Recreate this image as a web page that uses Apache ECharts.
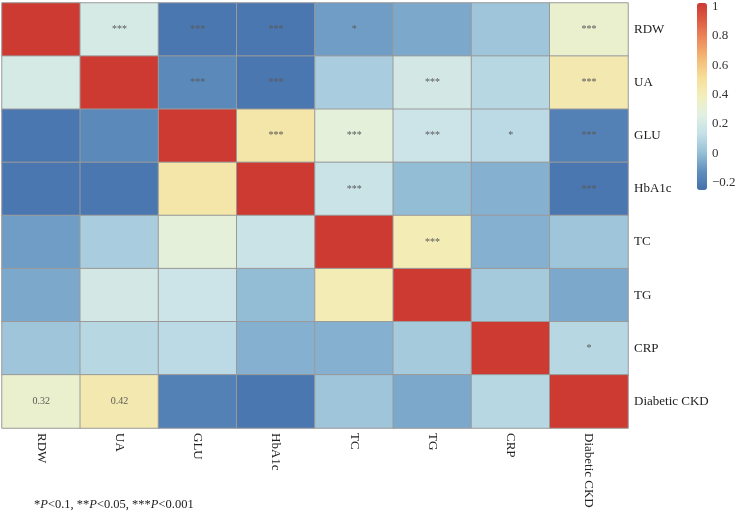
<!DOCTYPE html>
<html><head><meta charset="utf-8">
<script src="https://cdn.jsdelivr.net/npm/echarts@6/dist/echarts.min.js"></script>
<style>html,body{margin:0;padding:0;background:#fff}#c{width:753px;height:512px}</style>
</head><body><div id="c"></div>
<script>
const variables = ['RDW','UA','GLU','HbA1c','TC','TG','CRP','Diabetic CKD'];
// correlation rows (row variable vs column variable)
const rowRDW   = [1.00, 0.20, -0.22, -0.22, -0.09, -0.06, 0.02, 0.32];
const rowUA    = [0.20, 1.00, -0.15, -0.22, 0.05, 0.19, 0.09, 0.42];
const rowGLU   = [-0.22, -0.15, 1.00, 0.45, 0.28, 0.16, 0.10, -0.18];
const rowHbA1c = [-0.22, -0.22, 0.45, 1.00, 0.15, -0.01, -0.04, -0.22];
const rowTC    = [-0.09, 0.05, 0.28, 0.15, 1.00, 0.40, -0.04, 0.02];
const rowTG    = [-0.06, 0.19, 0.16, -0.01, 0.40, 1.00, 0.04, -0.06];
const rowCRP   = [0.02, 0.09, 0.10, -0.04, -0.04, 0.04, 1.00, 0.09];
const rowCKD   = [0.32, 0.42, -0.18, -0.22, 0.02, -0.06, 0.09, 1.00];
// cell annotations
const lblRDW   = ['', '***', '***', '***', '*', '', '', '***'];
const lblUA    = ['', '', '***', '***', '', '***', '', '***'];
const lblGLU   = ['', '', '', '***', '***', '***', '*', '***'];
const lblHbA1c = ['', '', '', '', '***', '', '', '***'];
const lblTC    = ['', '', '', '', '', '***', '', ''];
const lblTG    = ['', '', '', '', '', '', '', ''];
const lblCRP   = ['', '', '', '', '', '', '', '*'];
const lblCKD   = ['0.32', '0.42', '', '', '', '', '', ''];
const colorbarTicks = [-0.2, 0, 0.2, 0.4, 0.6, 0.8, 1];

const rows = [rowRDW,rowUA,rowGLU,rowHbA1c,rowTC,rowTG,rowCRP,rowCKD];
const lbls = [lblRDW,lblUA,lblGLU,lblHbA1c,lblTC,lblTG,lblCRP,lblCKD];
const data = [];
rows.forEach((r, ri) => r.forEach((v, ci) => data.push([ci, ri, v])));

const serif = '"Liberation Serif", "Times New Roman", serif';
const chart = echarts.init(document.getElementById('c'));
chart.setOption({
  animation: false,
  grid: [
    {left: 2, right: 125, top: 3, bottom: 84},
    {left: 697, width: 10, top: 3, height: 187}
  ],
  xAxis: [
    {type: 'category', data: variables, gridIndex: 0, position: 'bottom',
     axisLine: {show: false}, axisTick: {show: false}, splitLine: {show: false},
     axisLabel: {rotate: -90, margin: 5, fontFamily: serif, fontSize: 13, color: '#222', interval: 0}},
    {type: 'value', gridIndex: 1, show: false}
  ],
  yAxis: [
    {type: 'category', data: variables, gridIndex: 0, inverse: true, position: 'right',
     axisLine: {show: false}, axisTick: {show: false}, splitLine: {show: false},
     axisLabel: {margin: 6, fontFamily: serif, fontSize: 13, color: '#222', interval: 0}},
    {type: 'value', gridIndex: 1, min: -0.25, max: 1, position: 'right',
     axisLine: {show: false}, axisTick: {show: false}, splitLine: {show: false},
     axisLabel: {customValues: colorbarTicks, margin: 5, fontFamily: serif, fontSize: 13, color: '#333',
       formatter: v => String(Math.round(v * 10) / 10).replace('-', '\u2212')}}
  ],
  visualMap: {
    type: 'continuous', min: -0.25, max: 1, dimension: 2, seriesIndex: 0,
    calculable: false, text: null, showLabel: false,
    left: 697, top: 3, padding: 0, itemWidth: 10, itemHeight: 187,
    inRange: {color: ['#4470aa','#5f8fbe','#97c0d7','#c4e0e8','#e0f0e3','#f2efbc','#f5df9a','#f4bb77','#ee8d5e','#e05e45','#cc3a32']}
  },
  graphic: [{
    type: 'text', left: 34, top: 498,
    style: {
      text: '*{i|P}<0.1, **{i|P}<0.05, ***{i|P}<0.001',
      fontFamily: serif, fontSize: 12.5, fill: '#222',
      rich: {i: {fontStyle: 'italic', fontFamily: serif, fontSize: 12.5, color: '#222'}}
    }
  }],
  series: [{
    type: 'heatmap', xAxisIndex: 0, yAxisIndex: 0, data: data,
    itemStyle: {borderColor: '#9a9a9a', borderWidth: 1},
    emphasis: {disabled: true},
    label: {
      show: true,
      formatter: p => lbls[p.data[1]][p.data[0]],
      fontFamily: serif, fontSize: 10,
      color: '#5a5a5a'
    }
  }]
});
</script></body></html>
